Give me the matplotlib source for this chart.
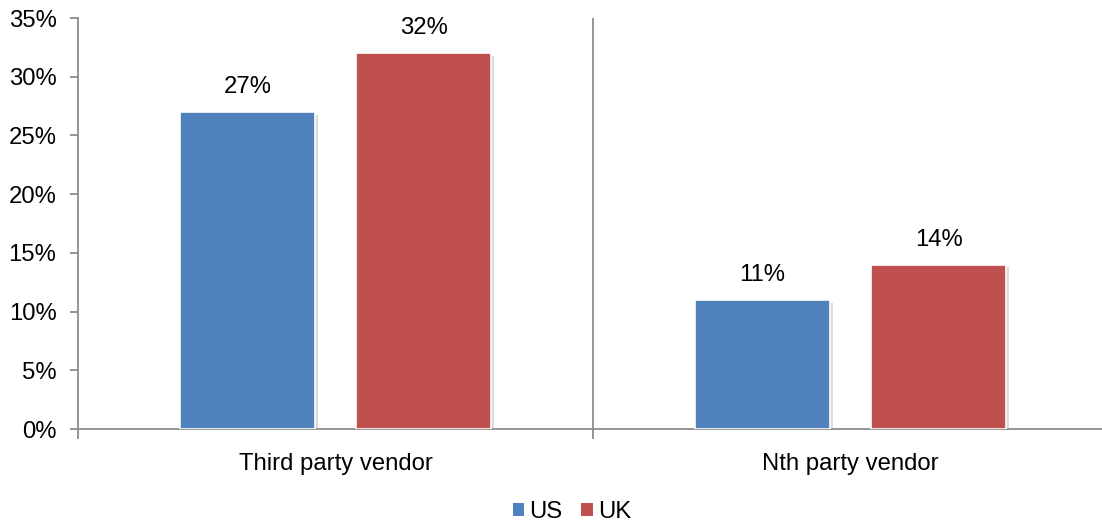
import matplotlib
matplotlib.use("Agg")
import matplotlib.pyplot as plt
import matplotlib.patheffects as pe
from matplotlib.patches import Patch
from matplotlib.ticker import FixedLocator, FuncFormatter
import numpy as np

plt.rcParams['font.family'] = ['Liberation Sans', 'DejaVu Sans']

categories = ["Third party vendor", "Nth party vendor"]
series_names = ["US", "UK"]
us_values = [27, 11]
uk_values = [32, 14]
colors = ["#4F81BD", "#C0504D"]
yticks = [0, 5, 10, 15, 20, 25, 30, 35]

FS = 17.2
fig = plt.figure(figsize=(11.02, 5.25), dpi=100)
ax = fig.add_axes([78 / 1102, 96 / 525, (1108 - 78) / 1102, (429 - 18) / 525])

x = np.arange(len(categories))
width = 0.263
offset = 0.171
axis_gray = "#8C8C8C"
shadow = [pe.SimplePatchShadow(offset=(2, -2), shadow_rgbFace="#9a9a9a", alpha=0.35), pe.Normal()]

for vals, off, col, name in zip([us_values, uk_values], [-offset, offset], colors, series_names):
    bars = ax.bar(x + off, vals, width, color=col, edgecolor="white", linewidth=1.2,
                  path_effects=shadow, zorder=3)
    for b, v in zip(bars, vals):
        ax.annotate(f"{v}%", (b.get_x() + b.get_width() / 2, v), xytext=(0, 10),
                    textcoords="offset points", ha="center", va="bottom", fontsize=FS)

ax.set_xlim(-0.5, 1.5)
ax.set_ylim(0, 35)
ax.yaxis.set_major_locator(FixedLocator(yticks))
ax.yaxis.set_major_formatter(FuncFormatter(lambda v, p: f"{int(v)}%"))
ax.tick_params(axis="y", length=6, width=1.3, color=axis_gray, pad=9.5, labelsize=FS)

ax.xaxis.set_major_locator(FixedLocator([-0.5, 0.5]))
ax.xaxis.set_major_formatter(FuncFormatter(lambda v, p: ""))
ax.xaxis.set_minor_locator(FixedLocator(list(x)))
ax.set_xticklabels(categories, minor=True)
ax.tick_params(axis="x", which="major", length=7, width=1.3, color=axis_gray)
ax.tick_params(axis="x", which="minor", length=0, pad=17, labelsize=FS)

ax.axvline(0.5, color=axis_gray, linewidth=1.3, zorder=1)

for s in ["top", "right"]:
    ax.spines[s].set_visible(False)
for s in ["left", "bottom"]:
    ax.spines[s].set_color(axis_gray)
    ax.spines[s].set_linewidth(1.3)

handles = [Patch(facecolor=c, edgecolor="none", label=n) for c, n in zip(colors, series_names)]
fig.legend(handles=handles, loc="center", bbox_to_anchor=(572 / 1102, 1 - 512 / 525), ncol=2,
           frameon=False, fontsize=FS, handlelength=0.5, handleheight=0.5, handletextpad=0.2,
           columnspacing=0.8)

fig.savefig("out.png", dpi=100)
